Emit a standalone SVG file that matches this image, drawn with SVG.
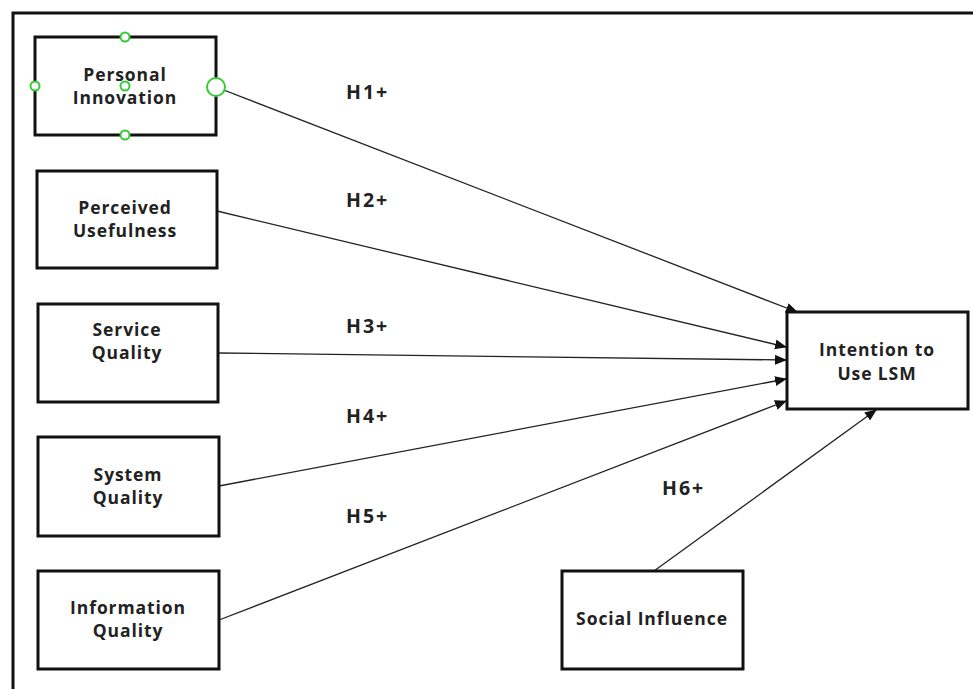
<svg xmlns="http://www.w3.org/2000/svg" width="973" height="689" viewBox="0 0 973 689">
<style>
.box{fill:#fff;stroke:#111;stroke-width:3}
.t{font-family:"Open Sans","Liberation Sans",sans-serif;font-weight:bold;font-size:17.5px;letter-spacing:0.9px;fill:#222;text-anchor:middle}
.h{font-family:"Open Sans","Liberation Sans",sans-serif;font-weight:bold;font-size:19.5px;letter-spacing:2px;fill:#222}
.c{stroke:#222;stroke-width:1.3;fill:none;marker-end:url(#ah)}
.g{fill:#fff;stroke:#3c3;stroke-width:2}
</style>
<defs>
<marker id="ah" markerWidth="12" markerHeight="10" refX="11" refY="5" orient="auto" markerUnits="userSpaceOnUse">
<path d="M0,0 L12,5 L0,10 Z" fill="#111"/>
</marker>
</defs>
<rect width="973" height="689" fill="#fff"/>
<path d="M13,689 V13 H973" fill="none" stroke="#111" stroke-width="3"/>
<g id="connectors">
<line class="c" x1="216" y1="87" x2="797" y2="312"/>
<line class="c" x1="217" y1="211" x2="786" y2="347"/>
<line class="c" x1="218" y1="353" x2="786" y2="360"/>
<line class="c" x1="219" y1="486" x2="786" y2="379"/>
<line class="c" x1="219" y1="620" x2="786" y2="401"/>
<line class="c" x1="654" y1="571" x2="876" y2="410"/>
</g>
<g id="labels">
<text class="h" x="346" y="99">H1+</text>
<text class="h" x="346" y="207">H2+</text>
<text class="h" x="346" y="333">H3+</text>
<text class="h" x="346" y="423">H4+</text>
<text class="h" x="346" y="523">H5+</text>
<text class="h" x="662" y="495">H6+</text>
</g>
<g id="personal-innovation">
<rect class="box" x="35" y="37" width="181" height="98"/>
<text class="t" x="125" y="81">Personal</text>
<text class="t" x="125" y="104">Innovation</text>
<circle class="g" cx="125" cy="37" r="4.5"/>
<circle class="g" cx="125" cy="135" r="4.5"/>
<circle class="g" cx="35" cy="86" r="4.5"/>
<circle class="g" cx="125" cy="86" r="4.5"/>
<circle class="g" cx="216" cy="87" r="9"/>
</g>
<g id="perceived-usefulness">
<rect class="box" x="37" y="171" width="180" height="97"/>
<text class="t" x="125" y="214">Perceived</text>
<text class="t" x="125" y="237">Usefulness</text>
</g>
<g id="service-quality">
<rect class="box" x="38" y="304" width="180" height="98"/>
<text class="t" x="127" y="336">Service</text>
<text class="t" x="127" y="359">Quality</text>
</g>
<g id="system-quality">
<rect class="box" x="38" y="437" width="181" height="99"/>
<text class="t" x="128" y="481">System</text>
<text class="t" x="128" y="504">Quality</text>
</g>
<g id="information-quality">
<rect class="box" x="38" y="571" width="181" height="98"/>
<text class="t" x="128" y="614">Information</text>
<text class="t" x="128" y="637">Quality</text>
</g>
<g id="intention-to-use-lsm">
<rect class="box" x="787" y="312" width="181" height="97"/>
<text class="t" x="877" y="356">Intention to</text>
<text class="t" x="877" y="380">Use LSM</text>
</g>
<g id="social-influence">
<rect class="box" x="562" y="571" width="181" height="98"/>
<text class="t" x="652" y="625">Social Influence</text>
</g>
</svg>
